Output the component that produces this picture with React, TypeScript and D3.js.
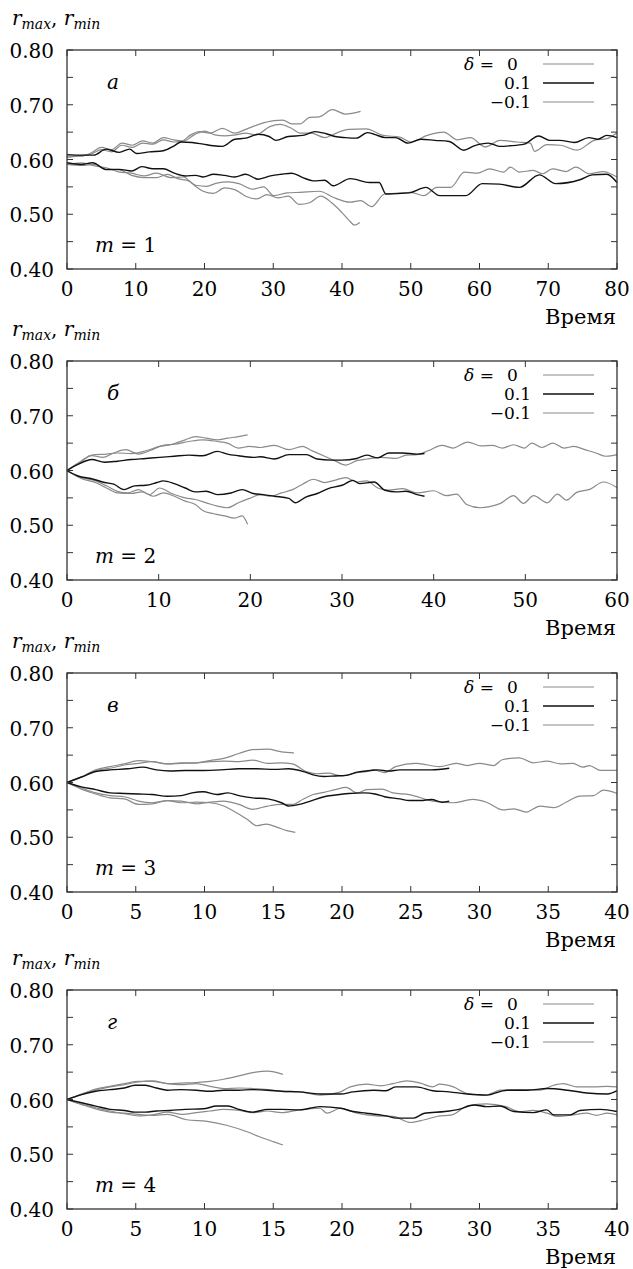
import React from 'react';
import * as d3 from 'd3';

// Time samples [t, r]; panel a (m = 1)
const aMax01 = [[0,0.609],[2.1,0.608],[3.9,0.608],[5.7,0.619],[7.6,0.613],[9.1,0.619],[10.1,0.611],[12.0,0.614],[14.0,0.616],[15.6,0.625],[16.6,0.632],[18.2,0.631],[19.8,0.628],[21.3,0.625],[22.6,0.624],[24.4,0.637],[26.0,0.639],[27.8,0.646],[29.4,0.642],[30.4,0.635],[32.2,0.642],[34.3,0.644],[36.1,0.651],[37.7,0.647],[39.0,0.642],[40.5,0.640],[42.1,0.639],[43.7,0.649],[44.7,0.646],[46.3,0.640],[47.8,0.640],[49.6,0.630],[51.5,0.637],[53.5,0.635],[55.6,0.633],[57.7,0.617],[59.2,0.625],[61.3,0.630],[62.9,0.624],[64.4,0.625],[66.5,0.628],[68.6,0.643],[70.2,0.635],[71.7,0.635],[73.8,0.631],[75.9,0.640],[77.2,0.637],[78.5,0.644],[80,0.640]];
const aMin01 = [[0,0.594],[2.1,0.591],[3.7,0.594],[5.7,0.582],[7.6,0.582],[9.4,0.579],[10.9,0.587],[12.5,0.583],[14.0,0.583],[15.6,0.575],[17.2,0.570],[18.7,0.571],[19.8,0.568],[21.3,0.573],[22.9,0.571],[24.4,0.568],[26.0,0.573],[27.8,0.564],[29.6,0.570],[31.2,0.573],[32.7,0.575],[34.3,0.567],[35.8,0.561],[37.5,0.562],[38.7,0.552],[41.2,0.565],[44,0.558],[45.4,0.558],[46.4,0.537],[49.8,0.539],[52.2,0.549],[54.2,0.534],[58,0.534],[60.4,0.556],[62.9,0.555],[65.8,0.549],[68.7,0.572],[71.1,0.556],[74.6,0.563],[76.4,0.572],[78.5,0.573],[80,0.558]];
const aMax0 = [[0,0.606],[2,0.606],[3.5,0.612],[5,0.622],[6.5,0.618],[8,0.630],[9.5,0.626],[11,0.634],[12.5,0.630],[14,0.640],[15.5,0.636],[17,0.634],[18.5,0.645],[20,0.652],[21.5,0.645],[23,0.643],[24.5,0.645],[26,0.648],[27.5,0.645],[29.5,0.660],[31,0.664],[32.5,0.658],[34,0.648],[35.5,0.648],[37.5,0.640],[39.5,0.650],[41,0.655],[43.5,0.656],[46,0.644],[48.4,0.641],[50,0.632],[52.4,0.644],[54.8,0.650],[56.8,0.636],[58.7,0.640],[60.8,0.623],[63,0.635],[65.5,0.632],[67.4,0.630],[68,0.615],[69.8,0.627],[71.8,0.626],[74.2,0.617],[76.7,0.635],[78.5,0.638],[80,0.649]];
const aMin0 = [[0,0.591],[2.1,0.594],[4.2,0.588],[5.7,0.585],[7.6,0.577],[9.4,0.575],[11.2,0.570],[13.0,0.575],[15.1,0.567],[16.9,0.568],[18.7,0.553],[20.3,0.551],[21.8,0.557],[23.4,0.559],[25.0,0.556],[27.0,0.546],[28.6,0.550],[30.1,0.534],[32.0,0.539],[33.9,0.540],[36.7,0.542],[38.7,0.531],[41.2,0.522],[42.7,0.525],[44.3,0.514],[46.2,0.537],[47.7,0.538],[50,0.540],[51.9,0.534],[53.8,0.549],[55.8,0.549],[57.8,0.577],[59.7,0.575],[61.5,0.583],[63.5,0.577],[64.5,0.586],[65.8,0.577],[67.8,0.580],[69.2,0.574],[70.6,0.583],[72.6,0.578],[74,0.586],[76,0.574],[78,0.578],[80,0.568]];
const aMaxM = [[0,0.604],[2,0.607],[3.5,0.610],[5,0.618],[6.5,0.614],[8,0.626],[9.5,0.622],[11,0.630],[12.5,0.628],[14,0.636],[15.5,0.632],[16.6,0.633],[18,0.645],[19.2,0.651],[20.8,0.648],[22.6,0.657],[24.4,0.648],[26,0.655],[28.1,0.665],[30.1,0.671],[31.4,0.672],[32.7,0.665],[33.9,0.665],[35.3,0.677],[36.7,0.678],[38.6,0.691],[40.5,0.683],[42.7,0.688]];
const aMinM = [[0,0.591],[2.1,0.589],[4.2,0.591],[5.7,0.581],[7.6,0.581],[9.4,0.571],[11.2,0.567],[13.0,0.567],[14.6,0.573],[16.1,0.565],[17.7,0.561],[18.7,0.551],[19.8,0.542],[21.3,0.538],[22.9,0.548],[24.4,0.545],[26.0,0.533],[27.6,0.528],[29.1,0.536],[30.7,0.530],[32.2,0.533],[33.8,0.518],[35.3,0.521],[36.9,0.533],[38.5,0.521],[40.0,0.503],[41.1,0.488],[41.8,0.480],[42.6,0.485]];

// panel б (m = 2)
const bMax01 = [[0,0.600],[1.2,0.611],[2.7,0.620],[4.1,0.615],[5.5,0.617],[7.0,0.620],[8.6,0.622],[10.1,0.624],[11.7,0.626],[13.3,0.628],[14.8,0.627],[16.4,0.635],[17.5,0.630],[18.7,0.627],[20.3,0.624],[21.1,0.625],[22.6,0.621],[24.2,0.629],[26.1,0.629],[27.3,0.621],[28.8,0.619],[30.0,0.619],[31.6,0.622],[32.7,0.628],[33.9,0.623],[35.1,0.632],[36.6,0.632],[38.2,0.630],[39.0,0.631]];
const bMin01 = [[0,0.600],[1.2,0.590],[2.7,0.585],[4.1,0.578],[5.1,0.575],[6.2,0.565],[7.4,0.572],[8.6,0.573],[9.8,0.578],[10.5,0.581],[11.7,0.576],[12.9,0.568],[14.0,0.561],[15.2,0.562],[16.4,0.556],[17.9,0.559],[19.1,0.565],[20.3,0.558],[21.4,0.556],[22.6,0.553],[24.2,0.549],[24.9,0.541],[26.1,0.552],[27.3,0.558],[28.5,0.567],[30.0,0.573],[31.2,0.582],[31.9,0.576],[33.5,0.579],[34.7,0.564],[35.9,0.561],[37.0,0.562],[38.2,0.556],[39.0,0.553]];
const bMax0 = [[0,0.600],[1.6,0.617],[2.7,0.627],[3.9,0.624],[5.1,0.632],[6.4,0.638],[7.8,0.630],[9.0,0.636],[10.5,0.646],[11.7,0.648],[13.3,0.653],[14.8,0.656],[16.4,0.653],[17.5,0.650],[18.7,0.641],[19.9,0.644],[21.1,0.642],[22.6,0.646],[24.2,0.638],[25.7,0.644],[26.5,0.638],[28.1,0.626],[29.2,0.618],[30.4,0.610],[31.6,0.618],[32.7,0.621],[34.3,0.624],[35.9,0.622],[37.0,0.628],[38.2,0.629],[39.4,0.636],[40.9,0.646],[42.1,0.641],[43.7,0.652],[45.2,0.645],[46.4,0.646],[47.5,0.641],[48.7,0.647],[49.9,0.641],[50.7,0.650],[51.8,0.642],[53.0,0.650],[54.2,0.641],[55.3,0.644],[56.5,0.638],[57.7,0.632],[58.8,0.626],[60,0.629]];
const bMin0 = [[0,0.599],[1.6,0.587],[3.1,0.581],[4.3,0.572],[5.5,0.562],[6.6,0.559],[7.8,0.565],[9.0,0.556],[10.1,0.568],[11.3,0.559],[12.9,0.550],[14.0,0.547],[15.2,0.541],[16.4,0.535],[17.5,0.532],[18.7,0.541],[19.9,0.549],[21.1,0.556],[22.2,0.553],[23.4,0.559],[24.6,0.565],[25.7,0.575],[26.9,0.584],[28.1,0.578],[29.2,0.582],[30.4,0.587],[31.6,0.579],[32.7,0.581],[33.9,0.568],[35.1,0.564],[36.6,0.567],[38.2,0.559],[40.0,0.563],[41.4,0.554],[42.5,0.557],[43.6,0.538],[45.1,0.532],[46.1,0.534],[47.3,0.540],[48.7,0.554],[49.8,0.540],[50.9,0.554],[52.4,0.541],[53.5,0.557],[54.5,0.546],[55.6,0.560],[57.1,0.566],[58.5,0.579],[60,0.569]];
const bMaxM = [[0,0.600],[1.6,0.618],[2.7,0.628],[4.3,0.630],[5.5,0.632],[7.0,0.631],[8.6,0.636],[10.1,0.644],[11.3,0.647],[12.9,0.656],[14.0,0.662],[15.2,0.659],[16.4,0.656],[17.5,0.659],[18.7,0.662],[19.7,0.665]];
const bMinM = [[0,0.600],[1.6,0.585],[3.1,0.578],[4.3,0.568],[5.5,0.559],[7.0,0.558],[8.2,0.561],[9.4,0.553],[10.5,0.559],[11.7,0.553],[12.9,0.544],[14.0,0.538],[14.8,0.527],[16.0,0.521],[17.2,0.517],[18.3,0.513],[19.1,0.517],[19.7,0.502]];

// panel в (m = 3)
const cMax01 = [[0,0.600],[1.05,0.610],[2.09,0.620],[3.13,0.623],[4.4,0.625],[5.5,0.628],[6.5,0.623],[7.5,0.621],[8.6,0.622],[9.9,0.622],[11.2,0.623],[12.5,0.625],[13.8,0.625],[15.1,0.624],[16.1,0.625],[17.2,0.620],[17.9,0.614],[18.7,0.611],[19.5,0.612],[20.3,0.613],[21.1,0.619],[22.1,0.622],[22.6,0.623],[23.4,0.621],[24.2,0.623],[25.5,0.623],[26.5,0.623],[27.8,0.626]];
const cMin01 = [[0,0.600],[1.05,0.592],[2.09,0.587],[3.13,0.581],[4.17,0.580],[5.2,0.579],[6.2,0.578],[7.3,0.575],[8.3,0.576],[9.1,0.581],[9.9,0.583],[10.9,0.578],[11.7,0.581],[12.5,0.576],[13.5,0.572],[14.6,0.570],[15.6,0.563],[16.1,0.557],[16.9,0.560],[17.7,0.566],[18.7,0.574],[19.8,0.578],[20.5,0.580],[21.6,0.581],[22.4,0.579],[23.1,0.574],[24.2,0.570],[24.9,0.567],[25.7,0.567],[26.5,0.569],[27.3,0.564],[27.8,0.566]];
const cMax0 = [[0,0.600],[1.05,0.610],[2.09,0.622],[3.13,0.626],[4.17,0.632],[5.2,0.635],[6.2,0.638],[7.3,0.634],[8.3,0.636],[9.4,0.636],[10.4,0.638],[11.4,0.639],[12.5,0.638],[13.5,0.641],[14.6,0.635],[15.6,0.636],[16.4,0.634],[17.4,0.620],[18.2,0.616],[19.0,0.617],[20.0,0.612],[21.1,0.618],[21.8,0.620],[22.3,0.623],[23.1,0.618],[23.9,0.629],[25.4,0.635],[27.1,0.629],[28.3,0.635],[29.1,0.631],[30.0,0.635],[31.0,0.631],[31.7,0.642],[32.9,0.645],[33.9,0.636],[34.9,0.639],[35.9,0.634],[36.8,0.635],[37.5,0.628],[38.0,0.631],[38.8,0.622],[40,0.622]];
const cMin0 = [[0,0.600],[1.05,0.590],[2.09,0.581],[3.13,0.576],[4.17,0.574],[5.2,0.566],[6.2,0.563],[7.3,0.567],[8.3,0.566],[9.4,0.561],[10.4,0.564],[11.4,0.566],[12.5,0.560],[13.5,0.551],[14.6,0.557],[15.6,0.560],[16.4,0.560],[17.2,0.570],[17.9,0.578],[18.7,0.582],[19.5,0.587],[20.3,0.591],[21.1,0.581],[21.8,0.587],[22.9,0.588],[23.7,0.581],[24.9,0.578],[26.6,0.566],[28.1,0.563],[29.5,0.569],[30.5,0.564],[31.7,0.550],[32.5,0.552],[33.4,0.546],[34.4,0.557],[35.4,0.554],[36.3,0.564],[37.3,0.575],[38.3,0.576],[39.0,0.586],[40,0.580]];
const cMaxM = [[0,0.600],[1.05,0.610],[2.09,0.623],[3.13,0.629],[4.17,0.634],[5.2,0.640],[6.2,0.638],[7.3,0.634],[8.3,0.635],[9.4,0.636],[10.4,0.640],[11.4,0.644],[12.5,0.653],[13.5,0.660],[14.6,0.661],[15.6,0.656],[16.5,0.654]];
const cMinM = [[0,0.600],[1.05,0.588],[2.09,0.579],[3.13,0.572],[4.17,0.570],[5.2,0.560],[6.2,0.561],[7.3,0.567],[8.3,0.563],[9.4,0.564],[10.4,0.563],[11.4,0.557],[12.1,0.548],[13.1,0.533],[13.8,0.521],[14.5,0.524],[15.3,0.518],[16.0,0.512],[16.6,0.509]];

// panel г (m = 4)
const dMax01 = [[0,0.600],[1.05,0.609],[2.09,0.615],[3.13,0.618],[4.17,0.621],[4.95,0.626],[5.7,0.626],[6.5,0.621],[7.3,0.617],[8.3,0.618],[9.4,0.617],[10.4,0.615],[11.4,0.617],[12.5,0.617],[13.5,0.618],[14.6,0.617],[15.6,0.615],[16.9,0.614],[18.4,0.610],[19.9,0.610],[20.8,0.614],[22.3,0.617],[23.2,0.616],[23.9,0.623],[25.4,0.623],[26.6,0.616],[27.8,0.614],[29.1,0.610],[30.5,0.608],[32.0,0.617],[33.5,0.617],[34.9,0.620],[36.4,0.617],[37.8,0.612],[39.3,0.610],[40,0.616]];
const dMin01 = [[0,0.600],[1.05,0.594],[2.09,0.588],[3.13,0.582],[4.17,0.580],[4.95,0.577],[5.7,0.577],[6.5,0.579],[7.5,0.580],[8.6,0.582],[9.9,0.583],[10.9,0.588],[11.7,0.588],[12.5,0.582],[13.5,0.577],[14.6,0.582],[15.6,0.582],[16.9,0.581],[18.4,0.587],[19.9,0.584],[20.8,0.578],[21.8,0.575],[23.2,0.570],[24.0,0.566],[25.2,0.566],[26.0,0.575],[27.5,0.578],[28.5,0.582],[29.6,0.590],[30.5,0.587],[31.5,0.588],[32.5,0.578],[33.9,0.576],[34.9,0.581],[35.4,0.572],[36.6,0.572],[37.3,0.580],[38.8,0.582],[40,0.578]];
const dMax0 = [[0,0.600],[1.05,0.609],[2.09,0.617],[3.13,0.623],[4.17,0.627],[5.2,0.632],[6.2,0.634],[7.3,0.629],[8.3,0.627],[9.4,0.629],[10.4,0.624],[11.4,0.620],[12.5,0.621],[13.5,0.620],[14.6,0.618],[15.6,0.615],[16.9,0.614],[18.4,0.608],[19.9,0.614],[20.6,0.623],[21.8,0.628],[22.8,0.625],[23.7,0.629],[24.7,0.634],[25.7,0.630],[26.6,0.623],[27.1,0.628],[28.1,0.623],[29.1,0.611],[30.5,0.608],[31.5,0.617],[32.9,0.618],[34.4,0.617],[35.4,0.626],[36.1,0.629],[37.1,0.623],[38.3,0.623],[39.3,0.624],[40,0.623]];
const dMin0 = [[0,0.600],[1.05,0.591],[2.09,0.585],[3.13,0.579],[4.17,0.574],[5.2,0.570],[6.2,0.572],[7.3,0.577],[8.3,0.573],[9.4,0.576],[10.4,0.579],[11.4,0.582],[12.5,0.580],[13.5,0.576],[14.6,0.579],[15.6,0.576],[16.9,0.581],[18.4,0.584],[18.9,0.575],[19.9,0.584],[21.1,0.575],[22.5,0.570],[23.7,0.569],[25.0,0.558],[26.0,0.563],[26.9,0.569],[28.0,0.572],[29.1,0.588],[30.5,0.592],[31.9,0.587],[32.9,0.578],[33.9,0.580],[34.9,0.575],[35.7,0.569],[36.8,0.572],[37.8,0.575],[38.5,0.571],[39.3,0.575],[40,0.572]];
const dMaxM = [[0,0.600],[1.05,0.610],[2.09,0.619],[3.13,0.624],[4.17,0.629],[5.2,0.633],[6.2,0.633],[7.3,0.629],[8.3,0.630],[9.4,0.631],[10.4,0.633],[11.4,0.637],[12.5,0.643],[13.5,0.649],[14.6,0.652],[15.7,0.646]];
const dMinM = [[0,0.600],[1.05,0.591],[2.09,0.583],[3.13,0.577],[4.17,0.575],[5.2,0.573],[6.2,0.571],[7.3,0.573],[8.7,0.563],[10.2,0.560],[11.6,0.553],[13.1,0.541],[14.0,0.532],[15.0,0.523],[15.7,0.517]];

const panelLetters = ['а', 'б', 'в', 'г'];
const modeNumbers = [1, 2, 3, 4];
const timeMax = [80, 60, 40, 40];
const timeStep = [10, 10, 5, 5];
const yTickLabels = ['0.40', '0.50', '0.60', '0.70', '0.80'];
const legendLabels = ['0', '0.1', '−0.1'];
const panelSeries = [
  { d0: [aMax0, aMin0], d01: [aMax01, aMin01], dm: [aMaxM, aMinM] },
  { d0: [bMax0, bMin0], d01: [bMax01, bMin01], dm: [bMaxM, bMinM] },
  { d0: [cMax0, cMin0], d01: [cMax01, cMin01], dm: [cMaxM, cMinM] },
  { d0: [dMax0, dMin0], d01: [dMax01, dMin01], dm: [dMaxM, dMinM] },
];

const W = 633;
const H = 1269;
const FONT = "'DejaVu Serif', 'Liberation Serif', serif";
const serif = { fontFamily: FONT };
const GRAY = '#8a8a8a';
const BLACK = '#111';
const FRAME = '#333';
const left = 67;
const right = 617;
const panelTops = [50, 361, 673, 990];
const plotH = 219;

const Panel = ({ idx }: { idx: number }) => {
  const top = panelTops[idx];
  const bottom = top + plotH;
  const x = d3.scaleLinear().domain([0, timeMax[idx]]).range([left, right]);
  const y = d3.scaleLinear().domain([0.4, 0.8]).range([bottom, top]);
  const line = d3.line<number[]>()
    .x(d => x(d[0]))
    .y(d => y(d[1]))
    .curve(d3.curveMonotoneX);
  const xTicks = d3.range(0, timeMax[idx] + 0.001, timeStep[idx]);
  const yTicks = d3.range(0.4, 0.8001, 0.05);
  const s = panelSeries[idx];
  const lg = [top + 14, top + 33, top + 52];

  return (
    <g style={serif}>
      {/* y label */}
      <text x={12} y={top - 25} fontSize={20}>
        <tspan fontStyle="italic">r</tspan>
        <tspan fontStyle="italic" fontSize={14} dy={4}>max</tspan>
        <tspan dy={-4}>, </tspan>
        <tspan fontStyle="italic">r</tspan>
        <tspan fontStyle="italic" fontSize={14} dy={4}>min</tspan>
      </text>

      {/* curves */}
      {[s.d0, s.dm].map((pair, k) => pair.map((d, j) => (
        <path key={`g${k}${j}`} d={line(d as number[][]) || ''} fill="none" stroke={GRAY} strokeWidth={1.2} />
      )))}
      {s.d01.map((d, j) => (
        <path key={`b${j}`} d={line(d as number[][]) || ''} fill="none" stroke={BLACK} strokeWidth={1.4} />
      ))}

      {/* frame */}
      <rect x={left} y={top} width={right - left} height={plotH} fill="none" stroke={FRAME} strokeWidth={1.3} />
      {yTicks.map((v, i) => (
        <g key={`yt${i}`}>
          <line x1={left} x2={left + 6} y1={y(v)} y2={y(v)} stroke={FRAME} strokeWidth={1} />
          <line x1={right - 6} x2={right} y1={y(v)} y2={y(v)} stroke={FRAME} strokeWidth={1} />
        </g>
      ))}
      {yTickLabels.map((lab, i) => (
        <text key={`yl${i}`} x={54} y={y(+lab) + 8} textAnchor="end" fontSize={20}>{lab}</text>
      ))}
      {xTicks.map((v, i) => (
        <g key={`xt${i}`}>
          <line x1={x(v)} x2={x(v)} y1={bottom} y2={bottom - 6} stroke={FRAME} strokeWidth={1} />
          <line x1={x(v)} x2={x(v)} y1={top} y2={top + 6} stroke={FRAME} strokeWidth={1} />
          <text x={x(v)} y={bottom + 27} textAnchor="middle" fontSize={20}>{v}</text>
        </g>
      ))}
      <text x={616} y={bottom + 55} textAnchor="end" fontSize={21}>Время</text>

      {/* panel labels */}
      <text x={107} y={top + 39} fontSize={20} fontStyle="italic">{panelLetters[idx]}</text>
      <text x={95} y={top + 202} fontSize={20}>
        <tspan fontStyle="italic">m</tspan> = {modeNumbers[idx]}
      </text>

      {/* legend */}
      <text x={494} y={lg[0] + 6} textAnchor="end" fontSize={17}>
        <tspan fontStyle="italic">δ</tspan> =
      </text>
      <text x={507} y={lg[0] + 6} fontSize={17}>{legendLabels[0]}</text>
      <text x={531} y={lg[1] + 6} textAnchor="end" fontSize={17}>{legendLabels[1]}</text>
      <text x={531} y={lg[2] + 6} textAnchor="end" fontSize={17}>{legendLabels[2]}</text>
      <line x1={543} x2={594} y1={lg[0]} y2={lg[0]} stroke={GRAY} strokeWidth={1.2} />
      <line x1={543} x2={594} y1={lg[1]} y2={lg[1]} stroke={BLACK} strokeWidth={1.4} />
      <line x1={543} x2={594} y1={lg[2]} y2={lg[2]} stroke={GRAY} strokeWidth={1.2} />
    </g>
  );
};

export default function App() {
  return (
    <svg width={W} height={H} style={{ position: 'absolute', left: 0, top: 0, background: '#fff' }}>
      <rect width={W} height={H} fill="#fff" />
      {[0, 1, 2, 3].map(i => <Panel key={i} idx={i} />)}
    </svg>
  );
}
